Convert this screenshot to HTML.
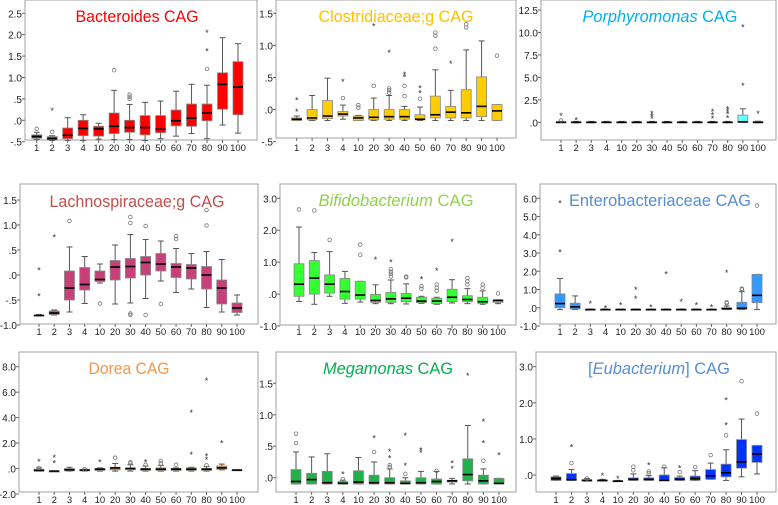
<!DOCTYPE html>
<html><head><meta charset="utf-8"><style>
html,body{margin:0;padding:0;background:#fff}
svg{display:block}
text{font-family:"Liberation Sans",sans-serif}
</style></head><body>
<svg id="chart" width="778" height="505" viewBox="0 0 778 505" xmlns="http://www.w3.org/2000/svg"></svg>
<script>
const categories = ["1","2","3","4","10","20","30","40","50","60","70","80","90","100"];

const ticks1 = [2.5,2.0,1.5,1.0,0.5,0.0,-0.5];
const tickLabels1 = ["2.5","2.0","1.5","1.0",".5",".0","-.5"];
const stats1 = [[-0.45,-0.42,-0.38,-0.34,-0.28],[-0.47,-0.45,-0.43,-0.38,-0.36],[-0.47,-0.43,-0.35,-0.18,0.06],[-0.47,-0.36,-0.19,0.0,0.13],[-0.44,-0.37,-0.2,-0.14,-0.07],[-0.45,-0.31,-0.14,0.17,0.7],[-0.45,-0.28,-0.17,0.0,0.37],[-0.47,-0.34,-0.17,0.11,0.42],[-0.43,-0.29,-0.21,0.11,0.45],[-0.37,-0.13,-0.01,0.24,0.68],[-0.31,-0.14,0.05,0.38,0.84],[-0.43,-0.01,0.17,0.38,0.82],[-0.11,0.26,0.84,1.11,1.93],[-0.3,0.13,0.78,1.37,1.79]];
const outliers1 = [[0,-0.2,"o"],[1,0.23,"*"],[1,-0.27,"o"],[5,1.17,"o"],[6,0.5,"o"],[6,0.55,"o"],[6,0.6,"o"],[11,1.2,"o"],[11,1.62,"*"],[11,2.05,"*"]];

const ticks2 = [1.5,1.0,0.5,0.0,-0.5];
const tickLabels2 = ["1.5","1.0",".5",".0","-.5"];
const stats2 = [[-0.17,-0.17,-0.15,-0.13,-0.1],[-0.17,-0.16,-0.13,0.0,0.22],[-0.17,-0.14,-0.1,0.14,0.49],[-0.15,-0.1,-0.07,-0.03,0.07],[-0.17,-0.17,-0.13,-0.1,-0.09],[-0.17,-0.16,-0.12,0.0,0.18],[-0.17,-0.15,-0.11,0.0,0.22],[-0.17,-0.15,-0.11,0.0,0.05],[-0.17,-0.16,-0.15,-0.08,0.04],[-0.17,-0.13,-0.08,0.21,0.62],[-0.17,-0.13,-0.04,0.05,0.3],[-0.17,-0.13,-0.05,0.31,0.93],[-0.17,-0.11,0.05,0.51,1.07],[-0.17,-0.17,-0.02,0.08,0.08]];
const outliers2 = [[0,0.15,"*"],[0,-0.03,"*"],[3,0.18,"o"],[3,0.44,"*"],[4,0.03,"o"],[4,0.07,"o"],[5,0.37,"o"],[5,1.3,"*"],[6,0.26,"o"],[6,0.3,"o"],[6,0.33,"o"],[6,0.89,"*"],[7,0.21,"o"],[7,0.37,"o"],[7,0.51,"*"],[7,0.55,"*"],[8,0.17,"o"],[8,0.26,"*"],[8,0.34,"*"],[9,0.95,"o"],[9,1.15,"o"],[9,1.2,"o"],[10,0.72,"*"],[11,1.28,"o"],[11,1.33,"o"],[13,0.84,"o"]];

const ticks3 = [12.5,10.0,7.5,5.0,2.5,0.0];
const tickLabels3 = ["12.5","10.0","7.5","5.0","2.5",".0"];
const stats3 = [[-0.05,-0.05,0,0.05,0.1],[-0.05,-0.05,0,0.05,0.1],[-0.05,-0.05,0,0.05,0.1],[-0.05,-0.05,0,0.05,0.1],[-0.05,-0.05,0,0.05,0.1],[-0.05,-0.05,0,0.05,0.1],[-0.05,-0.05,0,0.05,0.1],[-0.05,-0.05,0,0.05,0.1],[-0.05,-0.05,0,0.05,0.1],[-0.05,-0.05,0,0.05,0.1],[-0.05,-0.05,0,0.05,0.1],[-0.05,-0.05,0,0.05,0.1],[0,0,0.05,0.8,1.5],[-0.05,-0.05,0,0.08,0.12]];
const outliers3 = [[0,0.75,"*"],[0,0.2,"o"],[1,0.25,"*"],[6,0.4,"*"],[6,0.7,"*"],[6,1.0,"*"],[10,0.4,"*"],[10,0.8,"*"],[10,1.2,"*"],[11,0.5,"*"],[11,0.9,"*"],[11,1.2,"*"],[11,1.5,"*"],[12,4.1,"*"],[12,10.6,"*"],[13,1.0,"*"]];

const ticks4 = [1.5,1.0,0.5,0.0,-0.5,-1.0];
const tickLabels4 = ["1.5","1.0",".5",".0","-.5","-1.0"];
const stats4 = [[-0.82,-0.82,-0.81,-0.8,-0.79],[-0.8,-0.79,-0.76,-0.72,-0.7],[-0.74,-0.5,-0.26,0.08,0.56],[-0.57,-0.3,-0.19,0.15,0.37],[-0.16,-0.13,-0.09,0.08,0.22],[-0.58,-0.1,0.16,0.29,0.6],[-0.56,-0.06,0.17,0.33,0.81],[-0.47,0.0,0.25,0.37,0.71],[-0.12,0.08,0.22,0.43,0.68],[-0.35,-0.05,0.16,0.23,0.53],[-0.28,-0.08,0.14,0.21,0.43],[-0.65,-0.28,0.0,0.17,0.47],[-0.74,-0.58,-0.26,-0.1,0.31],[-0.8,-0.75,-0.66,-0.56,-0.4]];
const outliers4 = [[0,0.1,"*"],[0,-0.42,"*"],[1,0.76,"*"],[2,1.08,"o"],[4,-0.57,"o"],[6,1.04,"o"],[6,1.16,"o"],[6,-0.77,"o"],[6,-0.8,"o"],[7,0.98,"o"],[7,-0.8,"o"],[8,-0.58,"o"],[9,0.72,"o"],[9,0.78,"o"],[11,0.99,"o"],[11,1.3,"o"]];

const ticks5 = [3.0,2.0,1.0,0.0,-1.0];
const tickLabels5 = ["3.0","2.0","1.0",".0","-1.0"];
const stats5 = [[-0.23,-0.07,0.31,0.95,2.1],[-0.32,0.0,0.5,1.05,1.3],[-0.07,0.03,0.31,0.6,1.33],[-0.29,-0.16,0.08,0.49,0.71],[-0.25,-0.16,-0.03,0.4,0.4],[-0.3,-0.26,-0.2,-0.01,0.29],[-0.3,-0.26,-0.15,0.05,0.44],[-0.31,-0.24,-0.13,0.02,0.32],[-0.29,-0.27,-0.22,-0.1,-0.07],[-0.32,-0.3,-0.22,-0.13,-0.1],[-0.28,-0.24,-0.1,0.15,0.45],[-0.3,-0.24,-0.17,-0.05,0.17],[-0.32,-0.29,-0.24,-0.1,0.1],[-0.3,-0.26,-0.2,-0.18,-0.18]];
const outliers5 = [[0,2.65,"o"],[1,2.62,"o"],[2,1.7,"o"],[4,1.23,"o"],[4,1.55,"o"],[5,1.08,"*"],[6,0.55,"o"],[6,0.63,"o"],[6,0.7,"o"],[6,0.78,"o"],[6,1.0,"*"],[7,0.52,"o"],[7,0.55,"o"],[8,0.17,"o"],[8,0.25,"o"],[8,0.47,"*"],[9,0.1,"o"],[9,0.2,"o"],[9,0.3,"o"],[9,0.74,"*"],[10,1.65,"*"],[11,0.3,"o"],[11,0.4,"o"],[11,0.5,"o"],[12,0.2,"o"],[12,0.3,"o"],[13,0.02,"o"]];

const ticks6 = [6,5,4,3,2,1,0,-1];
const tickLabels6 = ["6.0","5.0","4.0","3.0","2.0","1.0",".0","-1.0"];
const stats6 = [[-0.1,0.0,0.23,0.76,1.6],[-0.1,-0.07,0.05,0.25,0.65],[-0.1,-0.1,-0.1,-0.08,-0.07],[-0.1,-0.1,-0.1,-0.08,-0.07],[-0.1,-0.1,-0.1,-0.08,-0.07],[-0.1,-0.1,-0.1,-0.08,-0.07],[-0.1,-0.1,-0.1,-0.08,-0.07],[-0.1,-0.1,-0.1,-0.08,-0.07],[-0.1,-0.1,-0.1,-0.08,-0.07],[-0.1,-0.1,-0.1,-0.08,-0.07],[-0.1,-0.1,-0.1,-0.08,-0.07],[-0.1,-0.1,-0.05,0.0,0.1],[-0.1,-0.08,-0.03,0.3,0.88],[-0.1,0.28,0.68,1.83,1.83]];
const outliers6 = [[0,3.05,"*"],[0,5.75,"*"],[2,0.23,"*"],[3,0.0,"*"],[4,0.15,"*"],[5,0.5,"*"],[5,1.0,"*"],[6,0.05,"*"],[7,1.85,"*"],[8,0.35,"*"],[9,0.15,"*"],[10,0.05,"*"],[11,0.25,"o"],[11,0.3,"o"],[11,1.92,"*"],[12,1.0,"o"],[12,1.05,"o"],[13,5.6,"o"]];

const ticks7 = [8,6,4,2,0,-2];
const tickLabels7 = ["8.0","6.0","4.0","2.0",".0","-2.0"];
const stats7 = [[-0.2,-0.2,-0.15,-0.05,0.05],[-0.2,-0.2,-0.2,-0.2,-0.2],[-0.2,-0.18,-0.1,0.0,0.1],[-0.2,-0.18,-0.12,-0.08,-0.05],[-0.2,-0.15,-0.05,0.0,0.05],[-0.2,-0.1,0.05,0.1,0.4],[-0.2,-0.1,0.0,0.05,0.3],[-0.2,-0.15,-0.05,0.0,0.2],[-0.2,-0.15,-0.05,0.05,0.25],[-0.2,-0.15,-0.05,0.0,0.05],[-0.2,-0.15,-0.05,0.05,0.1],[-0.2,-0.15,-0.05,0.0,0.15],[-0.1,-0.05,0.05,0.2,0.35],[-0.15,-0.15,-0.12,-0.1,-0.1]];
const outliers7 = [[0,0.05,"o"],[0,0.55,"*"],[1,0.45,"*"],[1,0.85,"*"],[3,-0.05,"o"],[4,0.5,"*"],[5,0.85,"o"],[6,0.4,"o"],[6,0.5,"o"],[7,0.3,"o"],[7,0.5,"*"],[8,0.4,"o"],[8,0.6,"o"],[9,0.3,"o"],[10,1.1,"*"],[10,4.4,"*"],[11,0.25,"o"],[11,0.7,"*"],[11,1.0,"*"],[11,6.9,"*"],[12,2.0,"*"]];

const ticks8 = [1.5,1.0,0.5,0.0];
const tickLabels8 = ["1.5","1.0",".5",".0"];
const stats8 = [[-0.1,-0.1,-0.06,0.13,0.41],[-0.1,-0.1,-0.03,0.07,0.33],[-0.1,-0.1,-0.08,0.1,0.38],[-0.1,-0.1,-0.09,-0.06,-0.04],[-0.1,-0.1,-0.07,0.11,0.32],[-0.1,-0.1,-0.08,0.04,0.25],[-0.1,-0.1,-0.08,0.0,0.14],[-0.1,-0.1,-0.09,-0.05,0.0],[-0.1,-0.1,-0.08,0.0,0.1],[-0.1,-0.1,-0.06,-0.02,0.1],[-0.1,-0.07,-0.05,-0.04,-0.01],[-0.1,-0.05,0.05,0.3,0.83],[-0.1,-0.1,-0.05,0.04,0.14],[-0.1,-0.1,-0.09,-0.01,-0.01]];
const outliers8 = [[0,0.55,"o"],[0,0.7,"o"],[3,-0.02,"o"],[3,0.06,"*"],[5,0.41,"o"],[5,0.63,"*"],[6,0.17,"o"],[6,0.2,"o"],[6,0.31,"*"],[6,0.42,"*"],[7,0.06,"o"],[7,0.19,"*"],[7,0.67,"*"],[8,0.4,"*"],[8,0.44,"*"],[9,0.11,"o"],[10,0.15,"*"],[10,0.23,"*"],[11,1.62,"*"],[12,0.27,"o"],[12,0.55,"*"],[12,0.89,"*"],[13,0.36,"*"]];

const ticks9 = [3.0,2.0,1.0,0.0];
const tickLabels9 = ["3.0","2.0","1.0",".0"];
const stats9 = [[-0.15,-0.15,-0.1,-0.05,-0.03],[-0.15,-0.15,-0.13,0.04,0.15],[-0.17,-0.17,-0.15,-0.13,-0.1],[-0.17,-0.17,-0.15,-0.14,-0.12],[-0.17,-0.17,-0.17,-0.16,-0.15],[-0.15,-0.15,-0.12,-0.08,0.03],[-0.15,-0.15,-0.12,-0.08,-0.02],[-0.15,-0.15,-0.15,0.0,0.2],[-0.15,-0.15,-0.12,-0.07,-0.03],[-0.15,-0.15,-0.1,-0.03,0.12],[-0.12,-0.12,-0.02,0.15,0.33],[-0.15,-0.05,0.06,0.3,0.7],[-0.05,0.19,0.36,0.98,1.55],[0.03,0.35,0.58,0.82,0.82]];
const outliers9 = [[1,0.33,"o"],[1,0.78,"*"],[2,-0.1,"o"],[3,-0.02,"*"],[4,-0.1,"*"],[5,0.13,"o"],[5,0.23,"o"],[6,0.05,"o"],[6,0.1,"o"],[6,0.28,"*"],[7,0.23,"o"],[8,0.08,"o"],[8,0.2,"*"],[9,0.22,"o"],[10,0.55,"o"],[11,1.1,"o"],[11,1.38,"*"],[11,2.08,"*"],[12,2.6,"o"],[13,1.7,"o"]];

const panels = [
 {name:"bacteroides",title:["Bacteroides CAG"],italic:[false],tc:"#ff0000",fill:"#ff0000",tx:137,ty:22,tw:123,l:25,t:0,r:257,b:140,va:2.5,ya:13.3,vb:-0.5,yb:141.7,x1:36.7,x2:238,ly:151,ticks:ticks1,labs:tickLabels1,stats:stats1,out:outliers1},
 {name:"clostridiaceae",title:["Clostridiaceae;g CAG"],italic:[false],tc:"#ffc000",fill:"#ffcc00",tx:396,ty:22,tw:155,l:276,t:0,r:516,b:138,va:1.5,ya:13.3,vb:-0.5,yb:141.7,x1:296.7,x2:497,ly:151,ticks:ticks2,labs:tickLabels2,stats:stats2,out:outliers2},
 {name:"porphyromonas",title:["Porphyromonas"," CAG"],italic:[true,false],tc:"#00b0f0",fill:"#66ffff",tx:660,ty:22,tw:155,l:541,t:0,r:776,b:140,va:12.5,ya:10,vb:0,yb:122.3,x1:561,x2:758,ly:151,ticks:ticks3,labs:tickLabels3,stats:stats3,out:outliers3},
 {name:"lachnospiraceae",title:["Lachnospiraceae;g CAG"],italic:[false],tc:"#c0504d",fill:"#c8407a",tx:137,ty:207,tw:175,l:20,t:184,r:258,b:324,va:1.5,ya:200,vb:-1.0,yb:325,x1:39,x2:237,ly:335,ticks:ticks4,labs:tickLabels4,stats:stats4,out:outliers4},
 {name:"bifidobacterium",title:["Bifidobacterium"," CAG"],italic:[true,false],tc:"#92d050",fill:"#33ff33",tx:396,ty:206,tw:155,l:280,t:184,r:516,b:325,va:3,ya:198.3,vb:-1,yb:326,x1:299,x2:498,ly:335,ticks:ticks5,labs:tickLabels5,stats:stats5,out:outliers5},
 {name:"enterobacteriaceae",title:["Enterobacteriaceae CAG"],italic:[false],tc:"#558ed5",fill:"#3399ff",tx:660,ty:206,tw:182,l:540,t:184,r:776,b:324,va:6,ya:198.3,vb:-1,yb:326,x1:560,x2:757,ly:335,ticks:ticks6,labs:tickLabels6,stats:stats6,out:outliers6},
 {name:"dorea",title:["Dorea CAG"],italic:[false],tc:"#f79646",fill:"#f08c1e",tx:129,ty:374,tw:81,l:19,t:352,r:258,b:492,va:8,ya:366.7,vb:-2,yb:494,x1:39,x2:237,ly:503,ticks:ticks7,labs:tickLabels7,stats:stats7,out:outliers7},
 {name:"megamonas",title:["Megamonas"," CAG"],italic:[true,false],tc:"#00b050",fill:"#22b04a",tx:388,ty:374,tw:130,l:276,t:352,r:516,b:492,va:1.5,ya:383.3,vb:0,yb:477.7,x1:296,x2:499,ly:503,ticks:ticks8,labs:tickLabels8,stats:stats8,out:outliers8},
 {name:"eubacterium",title:["[","Eubacterium","] CAG"],italic:[false,true,false],tc:"#558ed5",fill:"#0033ff",tx:659,ty:374,tw:142,l:536,t:352,r:776,b:492,va:3,ya:366.7,vb:0,yb:475,x1:556,x2:757,ly:503,ticks:ticks9,labs:tickLabels9,stats:stats9,out:outliers9}
];

const NS="http://www.w3.org/2000/svg";
const svg=document.getElementById('chart');
function mk(tag,attrs,parent){const e=document.createElementNS(NS,tag);for(const k in attrs)e.setAttribute(k,attrs[k]);(parent||svg).appendChild(e);return e;}

panels.forEach(p=>{
  const g=mk('g',{});
  
  
  const yS=v=>p.ya+(v-p.va)*(p.yb-p.ya)/(p.vb-p.va);
  const xS=i=>p.x1+i*(p.x2-p.x1)/(categories.length-1);
  const fr=mk('rect',{x:p.l,y:p.t,width:p.r-p.l,height:p.b-p.t,fill:'#fff',stroke:'#a0a0a0','stroke-width':1},g);
  
  
  p.ticks.forEach((v,i)=>{
    const y=yS(v);
    mk('line',{x1:p.l-3,x2:p.l,y1:y,y2:y,stroke:'#666'},g);
    const t=mk('text',{x:p.l-3,y:y+4,'text-anchor':'end','font-size':10,fill:'#222'},g);
    t.textContent=p.labs[i];
    
    
  });
  categories.forEach((c,i)=>{
    const x=xS(i);
    mk('line',{x1:x,x2:x,y1:p.b,y2:p.b+3,stroke:'#666'},g);
    const t=mk('text',{x:x,y:p.ly,'text-anchor':'middle','font-size':9.5,fill:'#222'},g);
    t.textContent=c;
    
    
  });
  p.stats.forEach((s,i)=>{
    const x=xS(i),w=10;
    const bg=mk('g',{},g);
    
    
    mk('line',{x1:x,x2:x,y1:yS(s[0]),y2:yS(s[4]),stroke:'#555','stroke-width':1},bg);
    mk('line',{x1:x-3,x2:x+3,y1:yS(s[0]),y2:yS(s[0]),stroke:'#555'},bg);
    mk('line',{x1:x-3,x2:x+3,y1:yS(s[4]),y2:yS(s[4]),stroke:'#555'},bg);
    const y3=yS(s[3]),y1=yS(s[1]);
    mk('rect',{x:x-w/2,y:y3,width:w,height:Math.max(1,y1-y3),fill:p.fill,stroke:'#888','stroke-width':0.8},bg);
    mk('line',{x1:x-w/2,x2:x+w/2,y1:yS(s[2]),y2:yS(s[2]),stroke:'#000','stroke-width':1.6},bg);
  });
  p.out.forEach(o=>{
    const x=xS(o[0]),y=yS(o[1]);
    let e;
    if(o[2]==='o'){e=mk('circle',{cx:x,cy:y,r:1.8,fill:'none',stroke:'#777','stroke-width':0.8},g);}
    else{e=mk('text',{x:x,y:y+3.5,'text-anchor':'middle','font-size':9,fill:'#333'},g);e.textContent='*';}
    
    
  });
  const tt=mk('text',{x:p.tx,y:p.ty,'text-anchor':'middle','font-size':17,fill:p.tc,textLength:p.tw,lengthAdjust:'spacingAndGlyphs'},g);
  
  
  p.title.forEach((s,i)=>{const ts=mk('tspan',{'font-style':p.italic[i]?'italic':'normal'},tt);ts.textContent=s;});
});
</script>
</body></html>
